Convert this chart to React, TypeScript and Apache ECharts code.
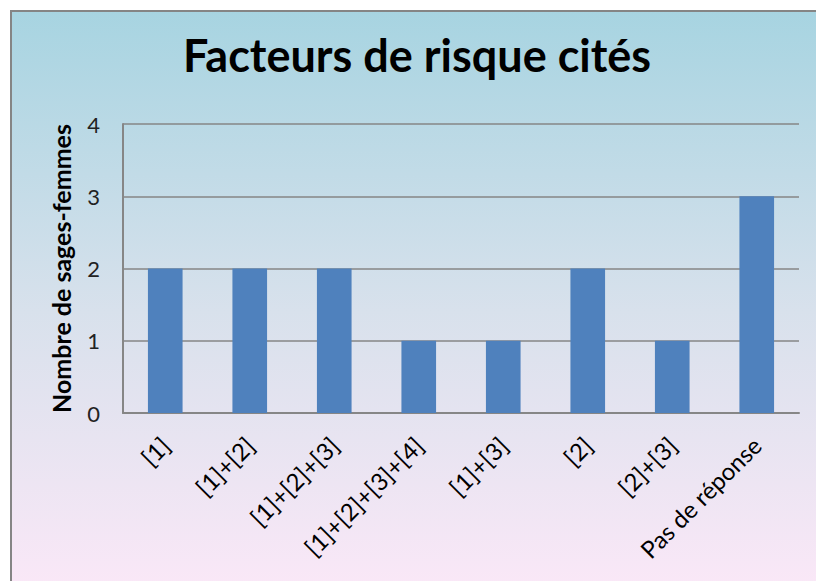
import React, { useEffect, useRef } from "react";
import * as echarts from "echarts";

const categories = ["[1]", "[1]+[2]", "[1]+[2]+[3]", "[1]+[2]+[3]+[4]", "[1]+[3]", "[2]", "[2]+[3]", "Pas de réponse"];
const values = [2, 2, 2, 1, 1, 2, 1, 3];
const titleText = "Facteurs de risque cités";
const yAxisName = "Nombre de sages-femmes";

export default function App() {
  const ref = useRef<HTMLDivElement>(null);
  useEffect(() => {
    if (!ref.current) return;
    const chart = echarts.init(ref.current, null, { renderer: "svg" });
    chart.setOption({
      animation: false,
      backgroundColor: "#ffffff",
      graphic: [
        {
          type: "rect",
          z: -10,
          silent: true,
          shape: { x: 11, y: 11, width: 830, height: 600 },
          style: {
            fill: new echarts.graphic.LinearGradient(0, 0, 0, 1, [
              { offset: 0, color: "#A7D4E1" },
              { offset: 0.5, color: "#D8E1EC" },
              { offset: 1, color: "#FDE8F8" },
            ]),
            stroke: "#858585",
            lineWidth: 2,
          },
        },
        {
          type: "text",
          x: 417,
          y: 55,
          style: {
            text: titleText,
            fontFamily: "Lato",
            fontWeight: "bold",
            fontSize: 45,
            fill: "#000000",
            textAlign: "center",
            textVerticalAlign: "middle",
          },
        },
      ],
      grid: { left: 123, top: 124, right: 17, bottom: 168 },
      xAxis: {
        type: "category",
        data: categories,
        axisLine: { show: true, lineStyle: { color: "#868686", width: 2 } },
        axisTick: { show: false },
        axisLabel: {
          interval: 0,
          rotate: 45,
          margin: 28,
          fontFamily: "Lato",
          fontSize: 24,
          color: "#000000",
        },
      },
      yAxis: {
        type: "value",
        min: 0,
        max: 4,
        interval: 1,
        name: yAxisName,
        nameLocation: "middle",
        nameRotate: 90,
        nameGap: 50,
        nameTextStyle: { fontFamily: "Lato", fontWeight: "bold", fontSize: 25, color: "#000000" },
        axisLine: { show: true, lineStyle: { color: "#868686", width: 2 } },
        axisTick: { show: false },
        axisLabel: { margin: 23, fontFamily: "Lato", fontSize: 22, color: "#222222" },
        splitLine: { show: true, lineStyle: { color: "#868686", width: 1.5 } },
      },
      series: [
        {
          type: "bar",
          data: values,
          barWidth: "41%",
          itemStyle: { color: "#4F81BD" },
        },
      ],
    });
    return () => chart.dispose();
  }, []);
  return <div ref={ref} style={{ position: "absolute", left: 0, top: 0, width: 816, height: 581 }} />;
}
